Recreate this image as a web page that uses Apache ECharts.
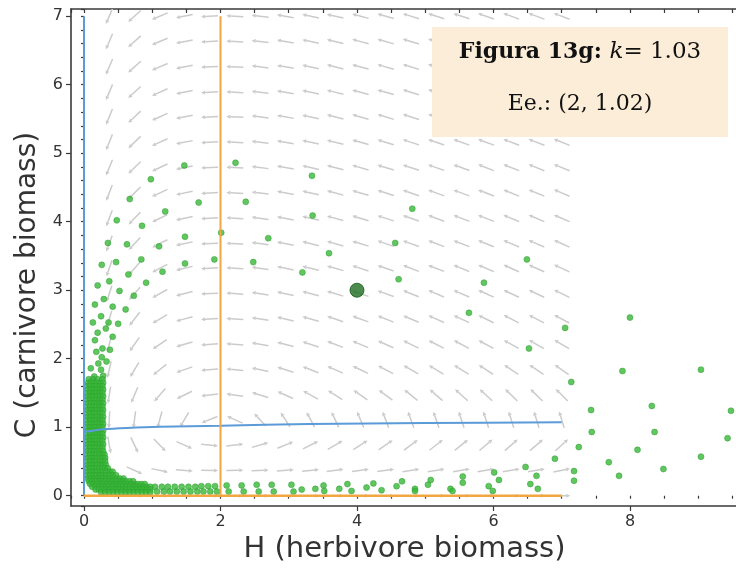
<!DOCTYPE html>
<html><head><meta charset="utf-8">
<script src="https://cdn.jsdelivr.net/npm/echarts@6/dist/echarts.min.js"></script>
<style>html,body{margin:0;padding:0;background:#fff}#c{width:736px;height:569px}</style>
</head><body><div id="c"></div>
<script>
// ---- Vector field grid (positions) and arrow angles in degrees, rows = C ascending ----
const gridH = [0, 0.37, 0.74, 1.11, 1.47, 1.84, 2.21, 2.58, 2.95, 3.32, 3.68, 4.05, 4.42, 4.79, 5.16, 5.53, 5.89, 6.26, 6.63, 7.0];
const gridC = [0, 0.37, 0.74, 1.11, 1.47, 1.84, 2.21, 2.58, 2.95, 3.32, 3.68, 4.05, 4.42, 4.79, 5.16, 5.53, 5.89, 6.26, 6.63, 7.0];
const fieldAngle = [
 [null,0,0,0,0,0,0,0,0,0,0,0,0,0,0,0,0,0,0,0],
 [null,-49,-24,-12,-5,-1,1,3,5,6,7,8,8,9,9,10,10,10,10,11],
 [null,-80,-65,-46,-24,-6,7,16,22,27,30,33,35,36,38,39,40,41,41,42],
 [null,-93,-97,-105,-121,-158,156,133,123,118,115,113,111,110,109,108,108,107,107,107],
 [null,-99,-113,-131,-154,-173,172,163,156,151,147,145,143,141,139,138,137,136,136,135],
 [null,-103,-121,-141,-161,-175,175,168,162,159,156,154,152,150,149,148,147,146,146,145],
 [null,-105,-125,-146,-164,-176,176,170,165,162,159,157,156,154,153,152,152,151,150,150],
 [null,-107,-128,-149,-165,-176,176,171,167,164,161,160,158,157,156,155,154,153,153,152],
 [null,-108,-131,-151,-166,-177,176,171,168,165,163,161,160,158,157,157,156,155,155,154],
 [null,-109,-132,-152,-167,-177,177,172,168,166,164,162,161,159,159,158,157,156,156,155],
 [null,-110,-133,-153,-168,-177,177,172,169,166,164,163,161,160,159,159,158,157,157,156],
 [null,-111,-134,-154,-168,-177,177,172,169,167,165,163,162,161,160,159,159,158,157,157],
 [null,-111,-135,-155,-168,-177,177,173,169,167,165,164,162,161,160,160,159,158,158,157],
 [null,-112,-136,-155,-169,-177,177,173,170,167,165,164,163,162,161,160,159,159,158,158],
 [null,-112,-136,-156,-169,-177,177,173,170,168,166,164,163,162,161,160,160,159,159,158],
 [null,-112,-137,-156,-169,-177,177,173,170,168,166,164,163,162,161,161,160,160,159,159],
 [null,-113,-137,-156,-169,-177,177,173,170,168,166,165,164,163,162,161,160,160,159,159],
 [null,-113,-138,-157,-169,-177,177,173,170,168,166,165,164,163,162,161,161,160,160,159],
 [null,-113,-138,-157,-169,-177,177,173,170,168,166,165,164,163,162,161,161,160,160,159],
 [null,-113,-138,-157,-169,-177,177,173,170,168,167,165,164,163,162,162,161,160,160,159]
];

// ---- Trajectory points: sparse dots (H, C) ----
const trajH = [
 1.47,2.22,0.98,1.68,0.67,1.19,0.48,0.85,2.01,1.48,0.35,0.63,1.10,1.91,0.26,0.47,0.84,1.48,1.15,0.65,0.20,0.37,0.91,0.52,0.73,0.16,0.29,0.42,0.61,0.25,0.13,0.36,0.50,
 0.32,0.20,0.42,0.16,0.27,0.38,0.18,0.26,0.10,0.21,0.33,0.25,0.15,0.28,
 2.37,2.70,2.48,
 3.34,4.81,3.35,4.56,3.59,3.20,6.49,4.61,5.86,5.64,7.05,8.00,6.52,7.89,9.04,7.14,7.43,8.32,9.48,7.44,8.36,9.43,7.25,8.11,6.90,7.69,9.04,7.84,8.49,7.18,7.18,6.63,6.54,6.65,6.47,6.01,6.08,5.93,5.99,5.55,5.55,5.37,5.40,5.08,5.04,4.85,4.85,4.66,4.58,4.36,4.24,4.14,3.92,3.86,3.74,3.52,3.51,3.39,3.19,
 1.04,1.07,1.14,1.17,1.23,1.26,1.33,1.36,1.43,1.46,1.53,1.56,1.63,1.66,1.72,1.75,1.82,1.85,1.92,1.95,2.09,2.12,2.31,2.34,2.53,2.56,2.75,2.78,3.04,3.07
];
const trajC = [
 4.82,4.86,4.62,4.28,4.33,4.15,4.02,3.94,3.84,3.78,3.69,3.67,3.64,3.45,3.37,3.41,3.45,3.39,3.27,3.23,3.07,3.13,3.11,2.99,2.92,2.79,2.87,2.76,2.72,2.62,2.53,2.53,2.51,
 2.44,2.38,2.32,2.27,2.15,2.13,2.10,2.02,1.86,1.93,1.96,1.84,1.74,1.75,
 4.29,3.76,3.41,
 4.67,4.19,4.09,3.69,3.54,3.26,3.45,3.16,3.11,2.67,2.45,2.60,2.15,1.82,1.84,1.66,1.25,1.31,1.24,0.93,0.93,0.84,0.71,0.67,0.54,0.49,0.57,0.29,0.39,0.36,0.22,0.29,0.17,0.10,0.42,0.34,0.23,0.14,0.07,0.28,0.19,0.10,0.07,0.23,0.16,0.10,0.07,0.21,0.14,0.08,0.18,0.12,0.07,0.17,0.10,0.07,0.15,0.10,0.09,
 0.13,0.06,0.13,0.06,0.13,0.06,0.13,0.06,0.13,0.06,0.13,0.06,0.13,0.06,0.14,0.06,0.14,0.06,0.14,0.06,0.15,0.06,0.15,0.06,0.16,0.06,0.16,0.06,0.16,0.06
];
// ---- Dense part of the trajectory near the C axis: each row = [C, H values] ----
const denseRows = [
 [1.70,[0.07,0.13,0.20,0.27]],
 [1.65,[0.06,0.10,0.15,0.19,0.24,0.28]],
 [1.60,[0.05,0.09,0.14,0.18,0.23,0.27]],
 [1.55,[0.06,0.10,0.15,0.19,0.24,0.28]],
 [1.50,[0.05,0.09,0.14,0.18,0.23,0.27]],
 [1.45,[0.06,0.10,0.15,0.19,0.24,0.28]],
 [1.40,[0.05,0.09,0.14,0.18,0.23,0.27]],
 [1.35,[0.06,0.10,0.15,0.19,0.24,0.28]],
 [1.30,[0.05,0.09,0.14,0.18,0.23,0.27]],
 [1.25,[0.06,0.10,0.15,0.19,0.24,0.28]],
 [1.20,[0.05,0.09,0.14,0.18,0.23,0.27]],
 [1.15,[0.06,0.10,0.15,0.19,0.24,0.28]],
 [1.10,[0.05,0.09,0.14,0.18,0.23,0.27]],
 [1.05,[0.06,0.10,0.15,0.19,0.24,0.28]],
 [1.00,[0.05,0.09,0.14,0.18,0.23,0.27]],
 [0.95,[0.06,0.10,0.15,0.19,0.24,0.28]],
 [0.90,[0.05,0.09,0.14,0.18,0.23,0.27]],
 [0.85,[0.06,0.10,0.15,0.19,0.24,0.28]],
 [0.80,[0.05,0.09,0.14,0.18,0.23,0.27]],
 [0.75,[0.06,0.10,0.15,0.19,0.24,0.28]],
 [0.70,[0.05,0.09,0.14,0.18,0.23,0.27]],
 [0.65,[0.06,0.10,0.15,0.19,0.24,0.28]],
 [0.60,[0.05,0.09,0.14,0.18,0.23,0.27,0.30]],
 [0.55,[0.06,0.10,0.15,0.19,0.24,0.28,0.31]],
 [0.50,[0.05,0.09,0.14,0.18,0.23,0.27,0.31]],
 [0.45,[0.06,0.10,0.15,0.19,0.24,0.28,0.32]],
 [0.40,[0.05,0.09,0.14,0.18,0.23,0.27,0.31,0.35]],
 [0.35,[0.06,0.10,0.15,0.19,0.24,0.28,0.33,0.38,0.42]],
 [0.30,[0.05,0.09,0.14,0.18,0.23,0.27,0.32,0.37,0.42,0.47]],
 [0.25,[0.06,0.10,0.15,0.19,0.24,0.28,0.33,0.38,0.43,0.48,0.53,0.58]],
 [0.21,[0.07,0.12,0.17,0.22,0.27,0.32,0.37,0.42,0.47,0.52,0.57,0.62,0.67,0.72]],
 [0.17,[0.09,0.14,0.19,0.24,0.29,0.34,0.39,0.44,0.49,0.54,0.59,0.64,0.69,0.74,0.79,0.84,0.89]],
 [0.13,[0.12,0.17,0.22,0.27,0.32,0.37,0.42,0.47,0.52,0.57,0.62,0.67,0.72,0.77,0.82,0.87,0.92,0.97]],
 [0.09,[0.17,0.22,0.27,0.32,0.37,0.42,0.47,0.52,0.57,0.62,0.67,0.72,0.77,0.82,0.87,0.92,0.97]],
 [0.05,[0.25,0.31,0.37,0.43,0.49,0.55,0.61,0.67,0.73,0.79,0.85,0.91,0.97]]
];
const startPoint = [4.0, 3.0];

// ---- Nullclines ----
const blueCurveH = [0, 0.14, 0.28, 0.63, 1.11, 2.0, 3.3, 5.0, 7.0];
const blueCurveC = [0.935, 0.95, 0.97, 0.99, 1.007, 1.022, 1.047, 1.06, 1.072];
const blueAxisH = [0, 0];
const blueAxisC = [0, 7];
const orangeVertH = [2, 2];
const orangeVertC = [0, 7];
const orangeHorH = [0, 7];
const orangeHorC = [0, 0];

// ---- Axis ticks / labels / texts ----
const xMajorStep = 2, xMinorStep = 0.5, yMajorStep = 1, yMinorStep = 0.2;
const xName = 'H (herbivore biomass)';
const yName = 'C (carnivore biomass)';
const titleLine1 = ['Figura 13g:', 'k', '= 1.03'];
const titleLine2 = 'Ee.: (2, 1.02)';

const X_MIN = -0.1905, X_MAX = 9.583, Y_MIN = -0.150, Y_MAX = 7.105;

const fieldData = [];
gridC.forEach((c, j) => gridH.forEach((h, i) => {
  const a = fieldAngle[j][i];
  if (a !== null) fieldData.push([h, c, a]);
}));
const dots = trajH.map((h, k) => [h, trajC[k]]);
denseRows.forEach(r => r[1].forEach(h => dots.push([h, r[0]])));
const zip = (a, b) => a.map((v, k) => [v, b[k]]);

const arrowColor = '#cbcbcb';
function renderArrow(params, api) {
  const p = api.coord([api.value(0), api.value(1)]);
  const a = api.value(2) * Math.PI / 180;
  const ux = Math.cos(a), uy = -Math.sin(a);
  const L = 8.5;
  const x1 = p[0] - ux * L, y1 = p[1] - uy * L, x2 = p[0] + ux * L, y2 = p[1] + uy * L;
  const hl = 4, hw = 2;
  const bx = x2 - ux * hl, by = y2 - uy * hl;
  const nx = -uy, ny = ux;
  return {
    type: 'group', children: [
      {type: 'line', shape: {x1: x1, y1: y1, x2: bx, y2: by}, style: {stroke: arrowColor, lineWidth: 1.5}},
      {type: 'polygon', shape: {points: [[x2, y2], [bx + nx * hw, by + ny * hw], [bx - nx * hw, by - ny * hw]]}, style: {fill: arrowColor}}
    ]
  };
}

const axisCol = '#3a3a3a';
const labelFont = {color: '#333', fontSize: 16, fontFamily: 'DejaVu Sans'};
function xAxisDef(step, len, opts) {
  return Object.assign({
    type: 'value', min: X_MIN, max: X_MAX, minInterval: step, maxInterval: step, splitNumber: 20,
    position: 'bottom', offset: 0,
    axisLine: {show: false}, splitLine: {show: false},
    axisTick: {show: true, length: len, lineStyle: {color: axisCol, width: 1.2}},
    axisLabel: {show: false}
  }, opts);
}
function yAxisDef(step, len, opts) {
  return Object.assign({
    type: 'value', min: Y_MIN, max: Y_MAX, minInterval: step, maxInterval: step, splitNumber: 40,
    position: 'left', offset: 0,
    axisLine: {show: false}, splitLine: {show: false},
    axisTick: {show: true, length: len, lineStyle: {color: axisCol, width: 1.2}},
    axisLabel: {show: false}
  }, opts);
}

const chart = echarts.init(document.getElementById('c'), null, {renderer: 'canvas'});
chart.setOption({
  animation: false,
  backgroundColor: '#ffffff',
  grid: {left: 71, top: 9, right: -2, bottom: 63, containLabel: false, outerBoundsMode: 'none'},
  xAxis: [
    xAxisDef(xMajorStep, 5, {
      axisLine: {show: true, onZero: false, lineStyle: {color: axisCol, width: 1.6}},
      axisLabel: {show: true, margin: 8, showMinLabel: false, showMaxLabel: false,
        formatter: v => (Math.abs(v % 2) < 1e-9 ? String(Math.round(v)) : ''), ...labelFont},
      name: xName, nameLocation: 'middle', nameGap: 27,
      nameTextStyle: {color: '#333', fontSize: 29, fontFamily: 'DejaVu Sans', verticalAlign: 'top'}
    }),
    xAxisDef(xMinorStep, 3, {}),
    xAxisDef(xMinorStep, 4, {position: 'top', axisLine: {show: true, onZero: false, lineStyle: {color: axisCol, width: 1.6}},
      axisTick: {show: true, inside: true, length: 4, lineStyle: {color: axisCol, width: 1.2}}})
  ],
  yAxis: [
    yAxisDef(yMajorStep, 5, {
      axisLine: {show: true, onZero: false, lineStyle: {color: axisCol, width: 1.6}},
      axisLabel: {show: true, margin: 8, showMinLabel: false, showMaxLabel: false,
        formatter: v => String(Math.round(v)), ...labelFont}
    }),
    yAxisDef(yMinorStep, 3, {})
  ],
  series: [
    {type: 'custom', name: 'field', renderItem: renderArrow, data: fieldData, z: 1, silent: true,
      encode: {x: 0, y: 1}, clip: true},
    {type: 'scatter', name: 'trajectory', data: dots, symbolSize: 6, z: 3, silent: true,
      itemStyle: {color: '#38b838', borderColor: '#2c9c2c', borderWidth: 0.6}},
    {type: 'line', data: zip(blueAxisH, blueAxisC), showSymbol: false, z: 4, lineStyle: {color: '#5b9bd8', width: 2}},
    {type: 'line', data: zip(blueCurveH, blueCurveC), showSymbol: false, smooth: 0.3, z: 4, lineStyle: {color: '#5b9bd8', width: 2}},
    {type: 'line', data: zip(orangeVertH, orangeVertC), showSymbol: false, z: 4, lineStyle: {color: '#f2a541', width: 2}},
    {type: 'line', data: zip(orangeHorH, orangeHorC), showSymbol: false, z: 4, lineStyle: {color: '#f2a541', width: 2.4}},
    {type: 'scatter', data: [startPoint], symbolSize: 14, z: 5, silent: true,
      itemStyle: {color: '#1f6e22', borderColor: '#175a19', borderWidth: 1}}
  ],
  graphic: [
    {type: 'text', x: 28, y: 285, rotation: Math.PI / 2, z: 11,
      style: {text: yName, align: 'center', verticalAlign: 'middle',
        font: '28px "DejaVu Sans"', fill: '#333'}},
    {type: 'rect', left: 432, top: 27, shape: {width: 296, height: 110}, z: 10,
      style: {fill: '#fbedd8'}},
    {type: 'text', x: 580, y: 52, z: 11,
      style: {
        text: '{b|' + titleLine1[0] + ' }{i|' + titleLine1[1] + '}{n|' + titleLine1[2] + '}',
        align: 'center', verticalAlign: 'middle',
        rich: {
          b: {fontFamily: 'DejaVu Serif', fontWeight: 'bold', fontSize: 22, fill: '#111'},
          i: {fontFamily: 'DejaVu Serif', fontStyle: 'italic', fontSize: 23, fill: '#111'},
          n: {fontFamily: 'DejaVu Serif', fontSize: 23, fill: '#111'}
        }
      }},
    {type: 'text', x: 580, y: 104, z: 11,
      style: {text: titleLine2, align: 'center', verticalAlign: 'middle',
        font: '22px "DejaVu Serif"', fill: '#111'}}
  ]
});
</script></body></html>
